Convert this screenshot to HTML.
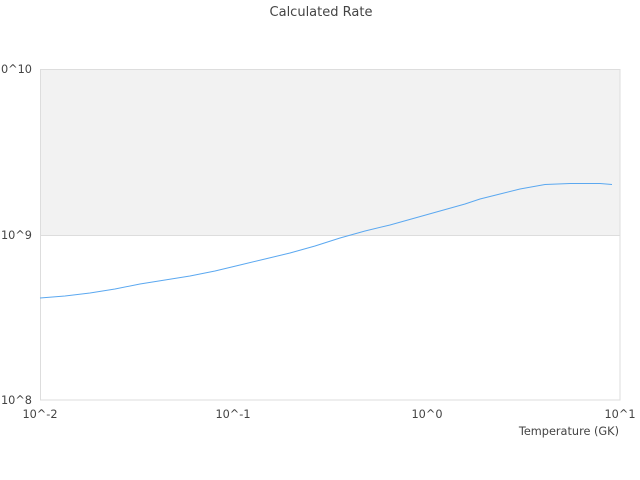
<!DOCTYPE html>
<html><head><style>body{margin:0;background:#fff}svg{display:block}text{font-family:"DejaVu Sans","Liberation Sans",sans-serif;font-size:11.3px;fill:#444}</style></head>
<body><svg width="640" height="480" viewBox="0 0 640 480">
<rect x="40" y="69" width="580" height="166" fill="#f2f2f2"/>
<rect x="40.5" y="69.5" width="579.5" height="330.5" fill="none" stroke="#ddd"/>
<line x1="40" y1="235.5" x2="620" y2="235.5" stroke="#ddd"/>
<text x="321" y="16" text-anchor="middle" style="font-size:13px">Calculated Rate</text>
<text x="32" y="73" text-anchor="end">10^10</text>
<text x="32" y="239" text-anchor="end">10^9</text>
<text x="32" y="404" text-anchor="end">10^8</text>
<text x="40" y="418" text-anchor="middle">10^-2</text>
<text x="233" y="418" text-anchor="middle">10^-1</text>
<text x="427" y="418" text-anchor="middle">10^0</text>
<text x="620" y="418" text-anchor="middle">10^1</text>
<text x="619" y="435" text-anchor="end">Temperature (GK)</text>
<polyline fill="none" stroke="#5ba8f0" stroke-width="1" points="40,298 65,296 90,293 115,289 140,284 165,280 190,276 215,271 240,265 265,259 290,253 315,246 340,238 365,231 390,225 415,218 440,211 465,204 480,199 500,194 520,189 545,184.5 570,183.5 600,183.5 612,184.5"/>
</svg></body></html>
